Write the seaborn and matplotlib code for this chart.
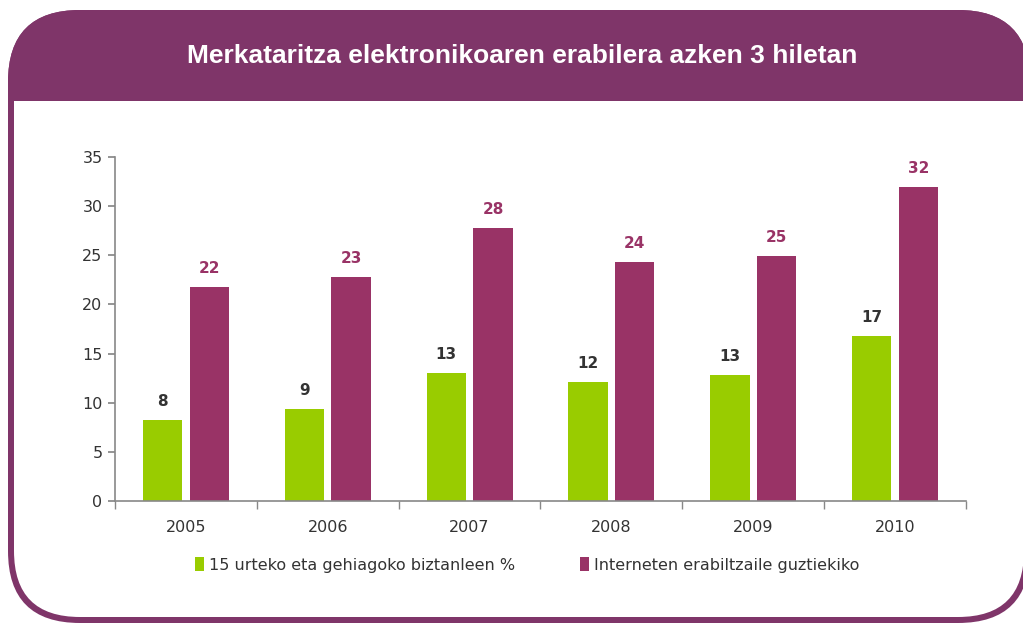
import matplotlib
matplotlib.use("Agg")
import matplotlib.pyplot as plt
import seaborn as sns
import pandas as pd
from matplotlib.patches import FancyBboxPatch, Rectangle, Patch

years = ["2005", "2006", "2007", "2008", "2009", "2010"]
series_names = ["15 urteko eta gehiagoko biztanleen %", "Interneten erabiltzaile guztiekiko"]
pop_values = [8.2, 9.4, 13.0, 12.1, 12.8, 16.8]
internet_values = [21.8, 22.8, 27.8, 24.3, 24.9, 31.9]
title_text = "Merkataritza elektronikoaren erabilera azken 3 hiletan"
y_ticks = [0, 5, 10, 15, 20, 25, 30, 35]

green = "#99CC00"
purple = "#993366"
frame = "#7F3569"

df = pd.DataFrame({
    "year": years * 2,
    "value": pop_values + internet_values,
    "series": [series_names[0]] * len(years) + [series_names[1]] * len(years),
})

sns.set_theme(style="white")
plt.rcParams["font.family"] = ["DejaVu Sans"]

W, H = 1023, 624
fig = plt.figure(figsize=(W / 100, H / 100), dpi=100)

# background frame
bg = fig.add_axes([0, 0, 1, 1], zorder=0)
bg.set_xlim(0, W)
bg.set_ylim(H, 0)
bg.axis("off")
outer = FancyBboxPatch((8, 10), 1030 - 8, 623 - 10,
                       boxstyle="round,pad=0,rounding_size=72",
                       facecolor=frame, edgecolor="none")
bg.add_patch(outer)
inner = FancyBboxPatch((14, 16), 1024 - 14, 617 - 16,
                       boxstyle="round,pad=0,rounding_size=66",
                       facecolor="white", edgecolor="none")
bg.add_patch(inner)
band = Rectangle((0, 0), W, 101, facecolor=frame, edgecolor="none")
bg.add_patch(band)
band.set_clip_path(outer)
bg.text(522, 56, title_text, color="white", fontsize=19, fontweight="bold",
        family="Liberation Sans", ha="center", va="center")

# main chart
ax = fig.add_axes([115 / W, 1 - 501 / H, (966 - 115) / W, (501 - 157) / H], zorder=1)
ax.patch.set_alpha(0)
sns.barplot(data=df, x="year", y="value", hue="series", palette=[green, purple],
            width=0.66, gap=0.16, saturation=1, legend=False, linewidth=0, ax=ax)

ax.set_ylim(0, 35)
ax.set_xlim(-0.5, len(years) - 0.5)
ax.set_yticks(y_ticks)
ax.set_xlabel("")
ax.set_ylabel("")
for s in ["top", "right"]:
    ax.spines[s].set_visible(False)
for s in ["left", "bottom"]:
    ax.spines[s].set_color("#888888")
    ax.spines[s].set_linewidth(1.2)
ax.tick_params(axis="y", direction="out", length=5, color="#888888", labelsize=11.5,
               labelcolor="#333333", left=True, pad=4)
ax.tick_params(axis="x", which="major", length=0, labelsize=11.5, labelcolor="#333333", pad=14)
ax.set_xticks([i - 0.5 for i in range(len(years) + 1)], minor=True)
ax.tick_params(axis="x", which="minor", direction="out", length=6, color="#888888", bottom=True)

label_colors = ["#333333", purple]
for cont, col in zip(ax.containers, label_colors):
    ax.bar_label(cont, labels=[f"{b.get_height():.0f}" for b in cont], padding=8,
                 fontsize=11, fontweight="bold", color=col)

handles = [Patch(facecolor=green, edgecolor="none"), Patch(facecolor=purple, edgecolor="none")]
fig.legend(handles, series_names, loc="center", bbox_to_anchor=(527 / W, 1 - 565 / H),
           ncol=2, frameon=False, fontsize=11.5, handlelength=0.55, handleheight=0.9,
           handletextpad=0.3, columnspacing=4.1, labelcolor="#333333")

fig.savefig("out.png", dpi=100)
